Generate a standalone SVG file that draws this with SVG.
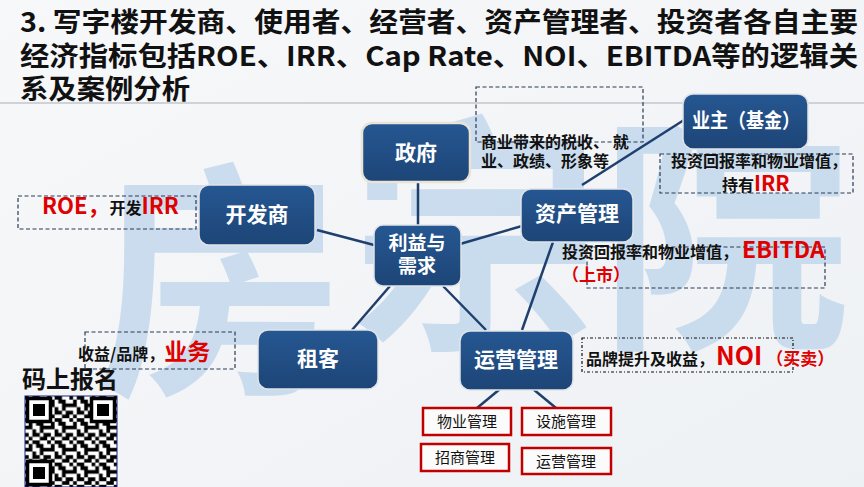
<svg xmlns="http://www.w3.org/2000/svg" width="864" height="487" viewBox="0 0 864 487">
<defs>
<linearGradient id="bg" x1="0" y1="0" x2="1" y2="1">
<stop offset="0" stop-color="#f7f8fa"/><stop offset="1" stop-color="#eef1f4"/>
</linearGradient>
<linearGradient id="nodeg" x1="0" y1="0" x2="0" y2="1">
<stop offset="0" stop-color="#265792"/><stop offset="1" stop-color="#1d4577"/>
</linearGradient>
<pattern id="qrp" patternUnits="userSpaceOnUse" x="25" y="396" width="22.2" height="22.2">
<rect width="22.2" height="22.2" fill="#fff"/>
<path fill="#000" d="M0 0h3.7v3.7h-3.7zM7.4 0h7.4v3.7h-7.4zM3.7 3.7h3.7v3.7h-3.7zM11.1 3.7h7.4v3.7h-7.4zM0 7.4h7.4v3.7h-7.4zM14.8 7.4h7.4v3.7h-7.4zM7.4 11.1h3.7v3.7h-3.7zM14.8 11.1h3.7v3.7h-3.7zM0 14.8h3.7v3.7h-3.7zM7.4 14.8h7.4v3.7h-7.4zM18.5 14.8h3.7v3.7h-3.7zM3.7 18.5h3.7v3.7h-3.7zM14.8 18.5h7.4v3.7h-7.4z"/>
</pattern>
<g id="finder">
<rect x="0" y="0" width="26" height="26" fill="#fff"/>
<rect x="1.5" y="1.5" width="23" height="23" fill="none" stroke="#000" stroke-width="3.5"/>
<rect x="7" y="7" width="12" height="12" fill="#000"/>
</g>
</defs>
<style>
.node rect.box{fill:url(#nodeg);stroke:#dfe3e8;stroke-width:1.5}
.nt{font-family:"Noto Sans CJK SC","Noto Sans",sans-serif;font-weight:bold;fill:#fff;text-anchor:middle}
.conn line{stroke:#1f3f6e;stroke-width:2.5}
.dash{fill:none;stroke:#2b3a55;stroke-width:1.2;stroke-dasharray:4 2.5}
.lbl{font-family:"Noto Sans CJK SC","Noto Sans",sans-serif;font-weight:bold;fill:#111}
.red{fill:#e00000;font-weight:bold}
.sub rect{fill:#fbfbfb;stroke:#c00000;stroke-width:2.5}
.st{font-family:"Noto Sans CJK SC","Noto Sans",sans-serif;font-size:15px;fill:#111;text-anchor:middle}
.title{font-family:"Noto Sans CJK SC","Noto Sans",sans-serif;font-weight:bold;font-size:27px;fill:#111}
.wm{font-family:"Noto Sans CJK SC",sans-serif;font-weight:bold;font-size:250px;fill:#c3d8ec;opacity:0.85}
</style>
<rect width="864" height="487" fill="url(#bg)"/>
<line x1="0" y1="103" x2="864" y2="103" stroke="#cfd3d8" stroke-width="2"/>
<g id="watermark">
<text class="wm" x="95" y="375">房</text>
<text class="wm" x="350" y="330">宗</text>
<text class="wm" x="600" y="330">院</text>
</g>
<g id="title">
<text class="title" x="20" y="32" textLength="838" lengthAdjust="spacingAndGlyphs">3. 写字楼开发商、使用者、经营者、资产管理者、投资者各自主要</text>
<text class="title" x="20" y="66" textLength="838" lengthAdjust="spacingAndGlyphs">经济指标包括ROE、IRR、Cap Rate、NOI、EBITDA等的逻辑关</text>
<text class="title" x="20" y="99" textLength="170" lengthAdjust="spacingAndGlyphs">系及案例分析</text>
</g>
<g id="connectors" class="conn">
<line x1="418" y1="182" x2="418" y2="225"/>
<line x1="317" y1="230" x2="374" y2="245"/>
<line x1="460" y1="244" x2="522" y2="226"/>
<line x1="390" y1="286" x2="352" y2="330"/>
<line x1="443" y1="286" x2="486" y2="330"/>
<line x1="553" y1="242" x2="522" y2="330"/>
<line x1="582" y1="185" x2="684" y2="120"/>
<line x1="500" y1="389" x2="477" y2="408"/>
<line x1="533" y1="389" x2="556" y2="408"/>
</g>
<g id="note-gov">
<rect class="dash" x="476" y="87" width="167" height="55"/>
<text class="lbl" x="481" y="148" font-size="16">商业带来的税收、 就</text>
<text class="lbl" x="481" y="167" font-size="16">业、政绩、形象等</text>
</g>
<g id="note-owner">
<rect class="dash" x="660" y="154" width="193" height="39"/>
<text class="lbl" x="759" y="167" font-size="16" text-anchor="middle">投资回报率和物业增值，</text>
<text class="lbl" x="722" y="191" font-size="16">持有<tspan class="red" font-size="21">IRR</tspan></text>
</g>
<g id="note-dev">
<rect class="dash" x="18" y="196" width="178" height="33"/>
<text class="lbl" x="42" y="214" font-size="16"><tspan class="red" font-size="22">ROE，</tspan>开发<tspan class="red" font-size="22">IRR</tspan></text>
</g>
<g id="note-asset">
<rect class="dash" x="587" y="247" width="238" height="41"/>
<text class="lbl" x="562" y="258" font-size="16">投资回报率和物业增值，<tspan class="red" font-size="23" dx="4">EBITDA</tspan></text>
<text class="lbl red" x="562" y="281" font-size="17">（上市）</text>
</g>
<g id="note-tenant">
<rect class="dash" x="85" y="332" width="150" height="37"/>
<text class="lbl" x="78" y="360" font-size="16">收益/品牌，<tspan class="red" font-size="23">业务</tspan></text>
</g>
<g id="note-ops">
<rect class="dash" x="582" y="338" width="211" height="34" style="stroke-dasharray:3 2 1 2;stroke:#111"/>
<text class="lbl" x="586" y="365" font-size="16">品牌提升及收益，<tspan class="red" font-size="25" dx="2">NOI</tspan><tspan class="red" font-size="17" dx="4">（买卖）</tspan></text>
</g>
<g id="node-gov" class="node">
<rect class="box" x="362" y="123" width="108" height="59" rx="10" style="stroke:#e9e4d6;stroke-width:2.5"/>
<text class="nt" x="416" y="160" font-size="21">政府</text>
</g>
<g id="node-core" class="node">
<rect class="box" x="374" y="225" width="87" height="61" rx="9"/>
<text class="nt" x="417" y="250" font-size="19">利益与</text>
<text class="nt" x="417" y="273" font-size="19">需求</text>
</g>
<g id="node-dev" class="node">
<rect class="box" x="199" y="185" width="116" height="60" rx="10"/>
<text class="nt" x="257" y="222" font-size="21">开发商</text>
</g>
<g id="node-asset" class="node">
<rect class="box" x="521" y="189" width="112" height="53" rx="10"/>
<text class="nt" x="577" y="221" font-size="21">资产管理</text>
</g>
<g id="node-owner" class="node">
<rect class="box" x="683" y="94" width="125" height="55" rx="10"/>
<text class="nt" x="746" y="128" font-size="20" textLength="108" lengthAdjust="spacingAndGlyphs">业主（基金）</text>
</g>
<g id="node-tenant" class="node">
<rect class="box" x="258" y="330" width="120" height="59" rx="10"/>
<text class="nt" x="318" y="366" font-size="21">租客</text>
</g>
<g id="node-ops" class="node">
<rect class="box" x="460" y="331" width="113" height="59" rx="10"/>
<text class="nt" x="516" y="367" font-size="21">运营管理</text>
</g>
<g id="sub-property" class="sub">
<rect x="423" y="408" width="88" height="27"/>
<text class="st" x="467" y="427">物业管理</text>
</g>
<g id="sub-facility" class="sub">
<rect x="522" y="408" width="89" height="27"/>
<text class="st" x="566" y="427">设施管理</text>
</g>
<g id="sub-leasing" class="sub">
<rect x="421" y="444" width="88" height="27"/>
<text class="st" x="465" y="463">招商管理</text>
</g>
<g id="sub-operation" class="sub">
<rect x="522" y="448" width="89" height="26"/>
<text class="st" x="566" y="467">运营管理</text>
</g>
<g id="signup">
<text class="lbl" x="22" y="388" font-size="24" fill="#000">码上报名</text>
<rect x="25" y="396" width="92" height="91" fill="url(#qrp)" stroke="#1a237e" stroke-width="1"/>
<use href="#finder" x="26" y="397"/>
<use href="#finder" x="90" y="397"/>
<use href="#finder" x="26" y="460"/>
</g>
</svg>
